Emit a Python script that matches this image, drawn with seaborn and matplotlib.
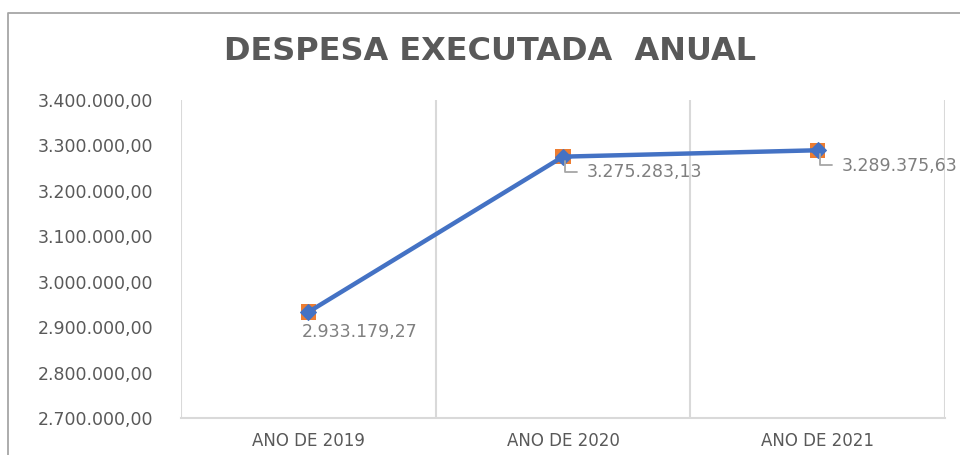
import matplotlib
matplotlib.use("Agg")
import matplotlib.pyplot as plt
import matplotlib.ticker as mticker
from matplotlib.lines import Line2D
import seaborn as sns
import pandas as pd

categories = ["ANO DE 2019", "ANO DE 2020", "ANO DE 2021"]
values = [2933179.27, 3275283.13, 3289375.63]
value_labels = ["2.933.179,27", "3.275.283,13", "3.289.375,63"]
title = "DESPESA EXECUTADA  ANUAL"

sns.set_theme(style="white")
plt.rcParams['font.family'] = ['DejaVu Sans']

df = pd.DataFrame({"cat": categories, "val": values, "pos": range(len(categories))})

fig = plt.figure(figsize=(9.6, 4.55), dpi=100)
ax = fig.add_axes([181/960, 1-418/455, (945-181)/960, (418-100)/455])

sns.scatterplot(data=df, x="pos", y="val", marker="s", s=120, color="#ED7D31",
                edgecolor="none", ax=ax, zorder=2)
sns.lineplot(data=df, x="pos", y="val", color="#4472C4", linewidth=3.2,
             marker="D", markersize=8, markeredgecolor="#4472C4", ax=ax, zorder=3)

ax.set_xlim(-0.5, 2.5)
ax.set_ylim(2700000, 3400000)
ax.set_xticks(range(len(categories)))
ax.set_xticklabels(categories)
ax.set_yticks([2700000 + 100000*i for i in range(8)])

def br(v, p):
    s = f"{v:,.2f}"
    return s.replace(",", "X").replace(".", ",").replace("X", ".")
ax.yaxis.set_major_formatter(mticker.FuncFormatter(br))

for t in ax.get_yticklabels():
    t.set_fontsize(12.5)
    t.set_color("#595959")
for t in ax.get_xticklabels():
    t.set_fontsize(12)
    t.set_color("#595959")
ax.tick_params(axis="y", length=0, pad=20)
ax.tick_params(axis="x", length=0, pad=10)
ax.set_xlabel("")
ax.set_ylabel("")

for x in [-0.5, 0.5, 1.5, 2.5]:
    ax.axvline(x, color="#d9d9d9", linewidth=1.5, zorder=0)
for s in ["left", "top", "right"]:
    ax.spines[s].set_visible(False)
ax.spines["bottom"].set_color("#d9d9d9")
ax.spines["bottom"].set_linewidth(1.5)

# data labels
ax.annotate(value_labels[0], (0, values[0]), xytext=(-5, -8), textcoords="offset points",
            ha="left", va="top", fontsize=12.5, color="#7f7f7f")
for i in [1, 2]:
    ax.annotate(value_labels[i], (i, values[i]), xytext=(17, -11), textcoords="offset points",
                ha="left", va="center", fontsize=12.5, color="#7f7f7f", annotation_clip=False)
    # leader line (L shape)
    tr = ax.transData
    x0, y0 = tr.transform((i, values[i]))
    fx0 = (x0 + 2) / 960
    pts_y = [(y0 - 4) / 455, (y0 - 15) / 455, (y0 - 15) / 455]
    pts_x = [fx0, fx0, fx0 + 12/960]
    fig.add_artist(Line2D(pts_x, pts_y, color="#a6a6a6", linewidth=1.3,
                          transform=fig.transFigure))

fig.text(490/960, 1-52/455, title, ha="center", va="center", fontsize=23,
         fontweight="bold", color="#595959")

# chart border
fig.add_artist(Line2D([8/960, 8/960, 1.0], [0, 1-13/455, 1-13/455], color="#a6a6a6",
                      linewidth=1.3, transform=fig.transFigure))

fig.savefig("out.png", dpi=100)
